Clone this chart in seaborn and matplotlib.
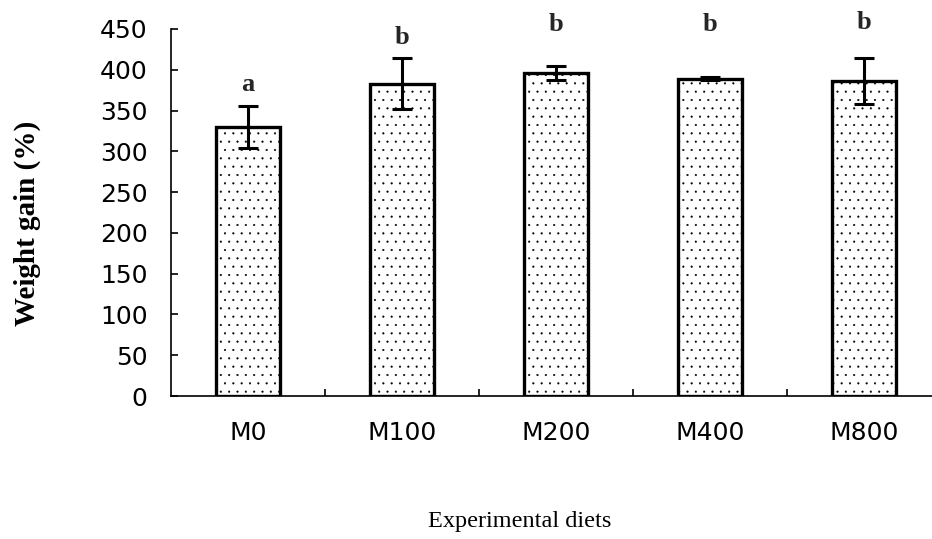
import matplotlib
matplotlib.use("Agg")
import matplotlib.pyplot as plt
import seaborn as sns
import pandas as pd
import numpy as np

# ---- data ----
diets = ["M0", "M100", "M200", "M400", "M800"]
weight_gain = [330, 383, 396, 389, 386]
sd = [26, 31, 9, 2, 28]
letters = ["a", "b", "b", "b", "b"]
letter_y = [382, 440, 455, 455, 458]
yticks = [0, 50, 100, 150, 200, 250, 300, 350, 400, 450]

df = pd.DataFrame({"diet": diets, "gain": weight_gain})

sns.set_theme(style="white")
plt.rcParams["hatch.linewidth"] = 0.3
plt.rcParams["hatch.color"] = "black"

fig = plt.figure(figsize=(9.32, 5.39), dpi=100)
ax = fig.add_axes([171 / 932, 1 - 396 / 539, 770 / 932, 367 / 539])

sns.barplot(data=df, x="diet", y="gain", ax=ax, color="white", width=0.42,
            edgecolor="black", linewidth=2.4, errorbar=None, hatch="..", zorder=2)
for p in ax.patches:
    p.set_facecolor("white")
    p.set_edgecolor("black")

xpos = np.arange(len(diets))
ax.errorbar(xpos, weight_gain, yerr=sd, fmt="none", ecolor="black",
            elinewidth=2.2, capsize=7.5, capthick=2.2, zorder=3)

for x, t, y in zip(xpos, letters, letter_y):
    ax.text(x, y, t, ha="center", va="center", fontsize=19, fontweight="bold",
            family="Liberation Serif", clip_on=False)

ax.set_xlim(-0.5, 4.5)
ax.set_ylim(0, 450)
ax.set_yticks(yticks)
ax.set_yticklabels([str(v) for v in yticks])

ax.set_xticks(xpos)
ax.set_xticklabels(diets)
ax.set_xticks(xpos[:-1] + 0.5, minor=True)

for s in ["top", "right"]:
    ax.spines[s].set_visible(False)
for s in ["left", "bottom"]:
    ax.spines[s].set_color("black")
    ax.spines[s].set_linewidth(1.2)

ax.tick_params(axis="y", which="major", direction="in", length=5, width=1.2,
               colors="black", labelsize=18, pad=17, left=True)
ax.tick_params(axis="x", which="major", length=0, labelsize=18, pad=18, colors="black")
ax.tick_params(axis="x", which="minor", direction="in", length=5, width=1.2,
               bottom=True, colors="black")
for lab in ax.get_xticklabels() + ax.get_yticklabels():
    lab.set_family("DejaVu Sans")

ax.set_xlabel("Experimental diets", family="Liberation Serif", fontsize=17.5,
              color="black")
ax.set_ylabel("Weight gain (%)", family="Liberation Serif", fontsize=21,
              fontweight="bold", color="black")
ax.xaxis.set_label_coords((520 - 171) / 770, (396 - 521) / 367)
ax.yaxis.set_label_coords((27 - 171) / 770, (396 - 223) / 367)
ax.xaxis.label.set_va("center")
ax.yaxis.label.set_va("center")

fig.savefig("out.png", dpi=100)
